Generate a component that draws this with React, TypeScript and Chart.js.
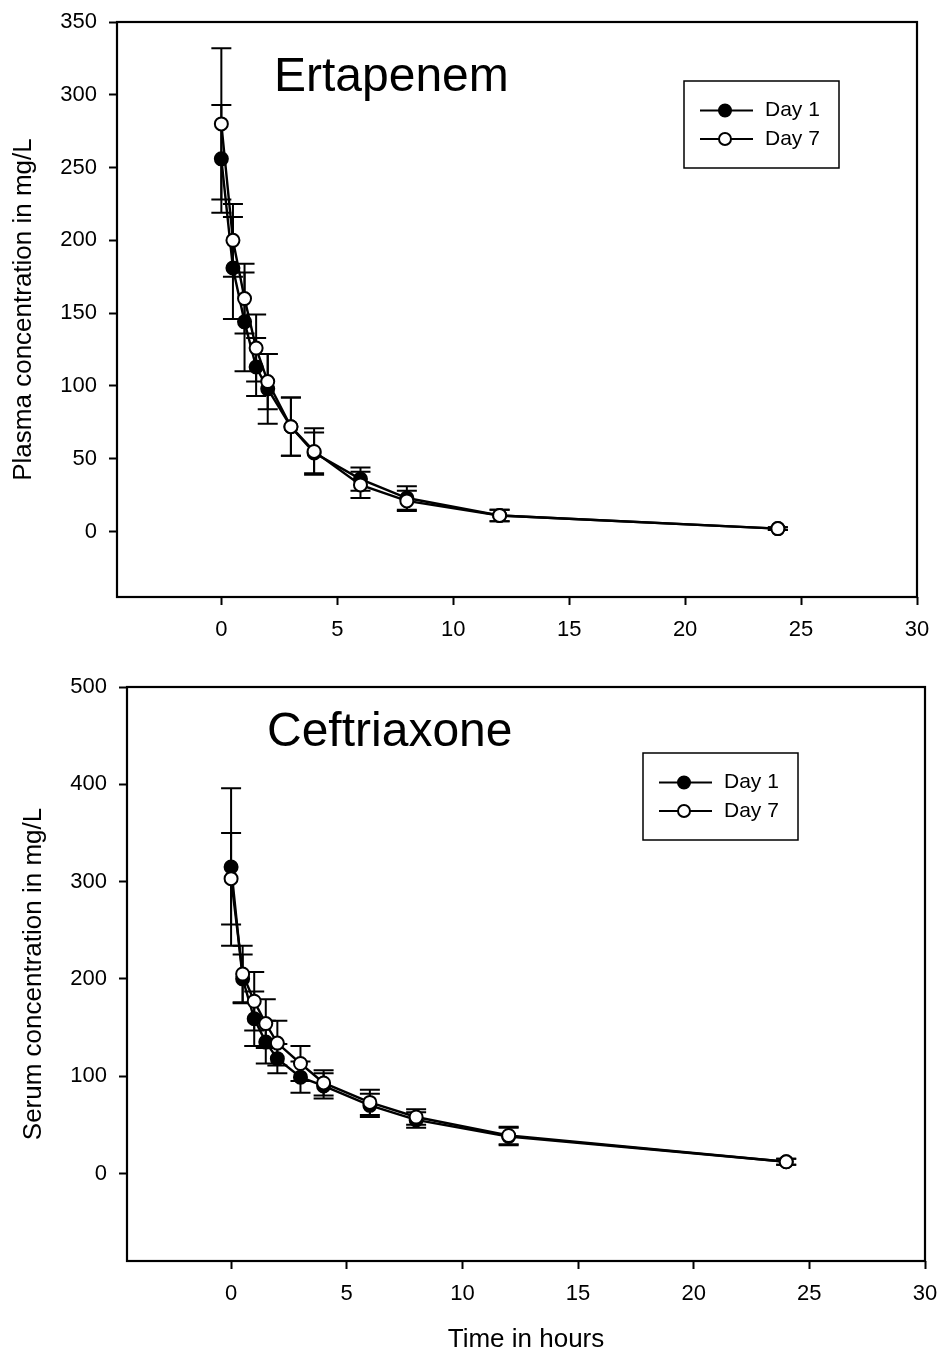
import React, { useEffect, useRef } from "react";
import { Chart, registerables } from "chart.js";

Chart.register(...registerables);

// ---------------- data ----------------
const TIMES = [0, 0.5, 1, 1.5, 2, 3, 4, 6, 8, 12, 24];
const SERIES_LABELS = ["Day 1", "Day 7"];

const ERTA_DAY1 = [256, 181, 144, 113, 98, 72, 54, 36, 23, 11, 2];
const ERTA_DAY1_SD = [37, 35, 34, 20, 24, 20, 14, 8, 8, 4, 1];
const ERTA_DAY7 = [280, 200, 160, 126, 103, 72, 55, 32, 21, 11, 2];
const ERTA_DAY7_SD = [52, 25, 24, 23, 19, 20, 16, 9, 7, 4, 1];

const CEF_DAY1 = [315, 200, 159, 135, 118, 99, 90, 70, 55, 38, 12];
const CEF_DAY1_SD = [81, 25, 28, 22, 15, 16, 13, 12, 8, 9, 3];
const CEF_DAY7 = [303, 205, 177, 154, 134, 113, 93, 73, 58, 39, 12];
const CEF_DAY7_SD = [47, 29, 30, 25, 23, 18, 13, 13, 8, 9, 3];

const X_TICKS = [0, 5, 10, 15, 20, 25, 30];
const ERTA_Y_TICKS = [0, 50, 100, 150, 200, 250, 300, 350];
const CEF_Y_TICKS = [0, 100, 200, 300, 400, 500];

const FONT = '"Liberation Sans", Arial, Helvetica, sans-serif';

// ---------------- plugins ----------------
const errorBarPlugin = {
  id: "errorBars",
  beforeDatasetsDraw(chart: any) {
    const ctx = chart.ctx;
    const xs = chart.scales.x;
    const ys = chart.scales.y;
    ctx.save();
    ctx.strokeStyle = "#000";
    ctx.lineWidth = 2;
    chart.data.datasets.forEach((ds: any) => {
      const sd: number[] = ds.sd || [];
      ds.data.forEach((p: any, i: number) => {
        const e = sd[i];
        if (!e) return;
        const x = xs.getPixelForValue(p.x);
        const yT = ys.getPixelForValue(p.y + e);
        const yB = ys.getPixelForValue(p.y - e);
        const hw = 10;
        ctx.beginPath();
        ctx.moveTo(x, yT);
        ctx.lineTo(x, yB);
        ctx.moveTo(x - hw, yT);
        ctx.lineTo(x + hw, yT);
        ctx.moveTo(x - hw, yB);
        ctx.lineTo(x + hw, yB);
        ctx.stroke();
      });
    });
    ctx.restore();
  },
};

const decoPlugin = {
  id: "panelDeco",
  afterDraw(chart: any, _args: any, opts: any) {
    const ctx = chart.ctx;
    const a = chart.chartArea;
    ctx.save();
    // frame
    ctx.strokeStyle = "#000";
    ctx.lineWidth = 2.2;
    ctx.strokeRect(a.left, a.top, a.right - a.left, a.bottom - a.top);

    // panel title
    ctx.fillStyle = "#000";
    ctx.font = `48px ${FONT}`;
    ctx.textBaseline = "alphabetic";
    ctx.textAlign = "left";
    ctx.fillText(opts.title, a.left + opts.titleDx, a.top + opts.titleDy);

    // legend
    const bx = a.left + opts.legendDx;
    const by = a.top + opts.legendDy;
    const bw = 155;
    const bh = 87;
    ctx.lineWidth = 1.5;
    ctx.strokeRect(bx, by, bw, bh);
    const rows = [
      { label: SERIES_LABELS[0], fill: "#000", dy: 29.5 },
      { label: SERIES_LABELS[1], fill: "#fff", dy: 58 },
    ];
    rows.forEach((r) => {
      const y = by + r.dy;
      ctx.lineWidth = 2;
      ctx.beginPath();
      ctx.moveTo(bx + 16, y);
      ctx.lineTo(bx + 69, y);
      ctx.stroke();
      ctx.beginPath();
      ctx.arc(bx + 41, y, 6, 0, Math.PI * 2);
      ctx.fillStyle = r.fill;
      ctx.fill();
      ctx.lineWidth = 2;
      ctx.stroke();
      ctx.fillStyle = "#000";
      ctx.font = `21px ${FONT}`;
      ctx.textBaseline = "middle";
      ctx.fillText(r.label, bx + 81, y);
    });
    ctx.restore();
  },
};

// ---------------- config ----------------
type Panel = {
  title: string;
  yTitle: string;
  xTitle: string;
  day1: number[];
  day1sd: number[];
  day7: number[];
  day7sd: number[];
  yTicks: number[];
  yMin: number;
  yMax: number;
  top: number;
  height: number;
  padding: { left: number; top: number; right: number; bottom: number };
  yAxisWidth: number;
  xAxisHeight: number;
  yTitlePad: number;
  titleDx: number;
  titleDy: number;
  legendDx: number;
  legendDy: number;
};

function makeConfig(p: Panel): any {
  const tickFont = { family: FONT, size: 22 };
  const common = {
    borderColor: "#000",
    borderWidth: 2.4,
    pointRadius: 6.5,
    pointBorderWidth: 2,
    pointBorderColor: "#000",
    fill: false,
    tension: 0,
  };
  return {
    type: "line",
    data: {
      datasets: [
        {
          ...common,
          label: SERIES_LABELS[1],
          data: TIMES.map((t, i) => ({ x: t, y: p.day7[i] })),
          sd: p.day7sd,
          pointBackgroundColor: "#fff",
          order: 0,
        },
        {
          ...common,
          label: SERIES_LABELS[0],
          data: TIMES.map((t, i) => ({ x: t, y: p.day1[i] })),
          sd: p.day1sd,
          pointBackgroundColor: "#000",
          order: 1,
        },
      ],
    },
    options: {
      animation: false,
      responsive: false,
      events: [],
      layout: { padding: p.padding },
      plugins: {
        legend: { display: false },
        tooltip: { enabled: false },
        panelDeco: {
          title: p.title,
          titleDx: p.titleDx,
          titleDy: p.titleDy,
          legendDx: p.legendDx,
          legendDy: p.legendDy,
        },
      },
      scales: {
        x: {
          type: "linear",
          min: -4.5,
          max: 30,
          afterBuildTicks: (axis: any) => {
            axis.ticks = X_TICKS.map((v) => ({ value: v }));
          },
          afterFit: (axis: any) => {
            axis.height = p.xAxisHeight;
            axis.paddingLeft = 0;
            axis.paddingRight = 0;
          },
          ticks: {
            font: tickFont,
            color: "#000",
            padding: 12,
            autoSkip: false,
            maxRotation: 0,
            callback: (v: any) => String(v),
          },
          grid: {
            drawOnChartArea: false,
            drawTicks: true,
            tickLength: 8,
            tickWidth: 2,
            tickColor: "#000",
          },
          border: { display: false },
          title: {
            display: p.xTitle !== "",
            text: p.xTitle,
            color: "#000",
            font: { family: FONT, size: 26, lineHeight: 1 },
            padding: { top: 0, bottom: 0 },
          },
        },
        y: {
          type: "linear",
          min: p.yMin,
          max: p.yMax,
          afterBuildTicks: (axis: any) => {
            axis.ticks = p.yTicks.map((v) => ({ value: v }));
          },
          afterFit: (axis: any) => {
            axis.width = p.yAxisWidth;
            axis.paddingTop = 0;
            axis.paddingBottom = 0;
          },
          ticks: {
            font: tickFont,
            color: "#000",
            padding: 12,
            autoSkip: false,
            callback: (v: any) => String(v),
          },
          grid: {
            drawOnChartArea: false,
            drawTicks: true,
            tickLength: 8,
            tickWidth: 2,
            tickColor: "#000",
          },
          border: { display: false },
          title: {
            display: true,
            text: p.yTitle,
            color: "#000",
            font: { family: FONT, size: 26 },
            padding: { top: p.yTitlePad, bottom: 0 },
          },
        },
      },
    },
    plugins: [errorBarPlugin, decoPlugin],
  };
}

const PANELS: Panel[] = [
  {
    title: "Ertapenem",
    yTitle: "Plasma concentration in mg/L",
    xTitle: "",
    day1: ERTA_DAY1,
    day1sd: ERTA_DAY1_SD,
    day7: ERTA_DAY7,
    day7sd: ERTA_DAY7_SD,
    yTicks: ERTA_Y_TICKS,
    yMin: -45,
    yMax: 350,
    top: 0,
    height: 645,
    padding: { left: 0, top: 22, right: 22, bottom: 0 },
    yAxisWidth: 117,
    xAxisHeight: 48,
    yTitlePad: 8,
    titleDx: 157,
    titleDy: 69,
    legendDx: 567,
    legendDy: 59,
  },
  {
    title: "Ceftriaxone",
    yTitle: "Serum concentration in mg/L",
    xTitle: "Time in hours",
    day1: CEF_DAY1,
    day1sd: CEF_DAY1_SD,
    day7: CEF_DAY7,
    day7sd: CEF_DAY7_SD,
    yTicks: CEF_Y_TICKS,
    yMin: -90,
    yMax: 500,
    top: 645,
    height: 708,
    padding: { left: 0, top: 42, right: 14, bottom: 0 },
    yAxisWidth: 127,
    xAxisHeight: 92,
    yTitlePad: 18,
    titleDx: 140,
    titleDy: 59,
    legendDx: 516,
    legendDy: 66,
  },
];

function PkChart({ panel }: { panel: Panel }) {
  const ref = useRef<HTMLCanvasElement>(null);
  useEffect(() => {
    if (!ref.current) return;
    const chart = new Chart(ref.current, makeConfig(panel));
    return () => chart.destroy();
  }, [panel]);
  return (
    <div
      style={{
        position: "absolute",
        left: 0,
        top: panel.top,
        width: 939,
        height: panel.height,
      }}
    >
      <canvas
        ref={ref}
        width={939}
        height={panel.height}
        style={{ width: 939, height: panel.height, display: "block" }}
      />
    </div>
  );
}

export default function App() {
  return (
    <div
      style={{
        position: "absolute",
        left: 0,
        top: 0,
        width: 939,
        height: 1353,
        background: "#fff",
        overflow: "hidden",
      }}
    >
      {PANELS.map((p) => (
        <PkChart key={p.title} panel={p} />
      ))}
    </div>
  );
}
